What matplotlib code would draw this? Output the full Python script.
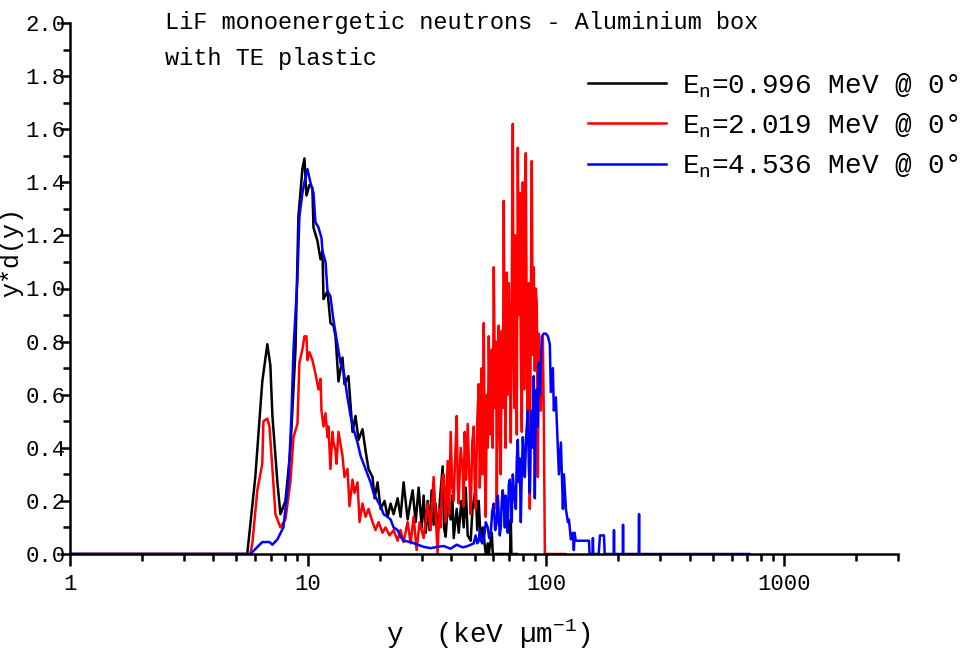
import matplotlib
matplotlib.use('Agg')
import matplotlib.pyplot as plt
from matplotlib.ticker import FixedLocator, LogLocator, NullFormatter

# 1. Spectra (y in keV/um, y*d(y))
x_096 = [1.0, 5.55, 6.00, 6.42, 6.74, 6.94, 7.08, 7.43, 7.65, 8.03, 8.42, 8.85, 9.10, 9.46, 9.65, 9.84,
         10.13, 10.42, 10.53, 10.94, 11.27, 11.49, 11.60, 12.06, 12.41, 12.78, 13.03, 13.41, 13.94, 14.21,
         14.77, 15.36, 15.81, 16.28, 16.92, 17.42, 17.93, 18.64, 19.01, 19.57, 20.15, 20.94, 21.56, 22.20,
         22.85, 23.76, 24.45, 25.17, 26.17, 26.95, 27.47, 28.28, 29.11, 30.0, 30.55, 31.2, 31.76, 32.3,
         33.0, 33.65, 34.3, 34.99, 35.8, 36.73, 37.2, 37.81, 38.55, 39.69, 40.3, 40.86, 42.07, 42.89,
         44.0, 45.02, 45.89, 46.79, 48.17, 49.0, 50.56, 51.3, 52.05, 53.07, 54.12, 55.72, 56.81, 57.36,
         59.05, 59.63, 70.5, 70.98, 71.4, 75.0]
y_096 = [0.0, 0.0, 0.29, 0.65, 0.79, 0.71, 0.52, 0.27, 0.15, 0.20, 0.39, 0.77, 1.27, 1.45, 1.49, 1.35,
         1.39, 1.38, 1.23, 1.18, 1.11, 1.14, 0.96, 0.99, 0.87, 0.86, 0.82, 0.65, 0.74, 0.64,
         0.67, 0.46, 0.52, 0.43, 0.47, 0.39, 0.32, 0.29, 0.21, 0.27, 0.17, 0.20, 0.14, 0.19,
         0.15, 0.21, 0.14, 0.27, 0.13, 0.20, 0.24, 0.12, 0.25, 0.10, 0.22, 0.08, 0.20, 0.09,
         0.24, 0.11, 0.19, 0.07, 0.21, 0.33, 0.10, 0.065, 0.18, 0.13, 0.22, 0.06, 0.17, 0.08,
         0.20, 0.10, 0.25, 0.07, 0.05, 0.17, 0.25, 0.09, 0.20, 0.05, 0.10, 0.0, 0.04, 0.0,
         0.08, 0.0, 0.0, 0.13, 0.0, 0.0]

x_2019 = [1.0, 5.72, 5.83, 6.12, 6.42, 6.49, 6.74, 6.88, 7.08, 7.29, 7.65, 8.03, 8.42, 8.68, 9.02, 9.19,
          9.46, 9.65, 9.84, 9.93, 10.13, 10.42, 10.73, 11.05, 11.27, 11.38, 11.60, 11.83, 12.06, 12.18,
          12.41, 12.66, 12.78, 13.03, 13.15, 13.41, 13.94, 14.21, 14.63, 14.92, 15.36, 15.66, 16.12, 16.44,
          16.92, 17.42, 17.93, 18.64, 19.19, 19.76, 20.54, 21.14, 21.98, 22.85, 23.76, 24.45, 25.17, 26.17,
          26.95, 27.73, 28.55, 29.39, 30.55, 31.76, 32.69, 33.65, 34.99, 35.5, 36.0, 36.5, 37.09, 37.8,
          38.55, 39.1, 39.69, 40.3, 40.86, 41.5, 42.07, 42.5, 42.89, 43.7, 44.58, 45.0, 45.45, 46.1,
          46.79, 47.5, 48.17, 48.9, 49.59, 50.1, 50.56, 51.3, 52.05, 52.6, 53.07, 53.6, 54.12, 54.65,
          55.2, 55.72, 56.3, 56.81, 57.36, 58.2, 59.05, 59.6, 60.21, 61.0, 61.6, 61.97, 62.6, 63.18,
          63.8, 64.42, 65.05, 65.7, 66.32, 66.9, 67.5, 68.28, 68.9, 69.62, 70.3, 70.98, 71.6, 72.37,
          72.9, 73.4, 74.0, 74.5, 74.9, 75.22, 75.96, 76.7, 77.44, 78.2, 78.95, 79.72, 80.3, 80.8,
          81.4, 82.06, 82.8, 83.67, 84.48, 85.30, 86.1, 86.96, 87.8, 88.66, 89.52, 90.4, 91.28, 92.17,
          93.07, 94.0, 94.90, 95.8, 96.76, 97.70, 98.65, 119.8]
y_2019 = [0.0, 0.0, 0.04, 0.24, 0.34, 0.50, 0.51, 0.48, 0.32, 0.15, 0.10, 0.13, 0.27, 0.44, 0.49, 0.72,
          0.77, 0.82, 0.82, 0.73, 0.76, 0.73, 0.68, 0.62, 0.66, 0.54, 0.48, 0.53, 0.44, 0.48,
          0.32, 0.46, 0.42, 0.39, 0.34, 0.46, 0.37, 0.29, 0.32, 0.18, 0.28, 0.23, 0.27, 0.12,
          0.19, 0.14, 0.17, 0.12, 0.09, 0.12, 0.08, 0.10, 0.07, 0.09, 0.05, 0.09, 0.045, 0.12,
          0.04, 0.14, 0.015, 0.12, 0.06, 0.19, 0.09, 0.29, 0.0, 0.17, 0.10, 0.28, 0.30, 0.12,
          0.35, 0.15, 0.46, 0.25, 0.20, 0.38, 0.52, 0.25, 0.19, 0.40, 0.32, 0.18, 0.46, 0.28,
          0.49, 0.30, 0.15, 0.42, 0.48, 0.25, 0.17, 0.50, 0.64, 0.25, 0.43, 0.70, 0.30, 0.87,
          0.35, 0.14, 0.60, 0.40, 0.82, 0.45, 0.77, 0.40, 1.08, 0.55, 0.80, 0.17, 0.70, 0.86,
          0.45, 0.30, 0.84, 0.55, 1.33, 0.70, 0.40, 1.06, 0.60, 1.02, 0.75, 0.42, 0.95, 1.62,
          0.80, 0.55, 1.20, 1.12, 0.70, 0.45, 1.53, 0.90, 1.36, 0.75, 0.46, 1.40, 0.95, 0.62,
          1.25, 1.51, 0.85, 0.48, 1.02, 0.17, 0.90, 1.48, 0.75, 1.08, 0.69, 1.00, 0.94, 0.29,
          0.83, 0.60, 0.54, 0.75, 0.82, 0.50, 0.0, 0.0]

x_4536 = [1.0, 5.72, 6.42, 6.88, 7.08, 7.43, 7.87, 8.26, 8.51, 8.68, 9.02, 9.19, 9.46, 9.65, 9.93, 10.22,
          10.53, 10.73, 11.05, 11.38, 11.49, 11.83, 12.06, 12.41, 12.78, 13.28, 13.67, 14.08, 14.63, 15.07,
          15.51, 16.12, 16.60, 17.09, 17.76, 18.29, 18.82, 19.57, 20.15, 20.74, 21.56, 22.20, 22.85, 23.76,
          24.45, 25.17, 26.95, 28.83, 30.55, 32.69, 34.99, 37.09, 39.69, 42.07, 44.58, 46.79, 48.17, 49.59,
          50.5, 51.3, 52.05, 52.6, 53.07, 53.8, 54.65, 55.7, 56.81, 57.6, 58.5, 59.3, 60.21, 61.0,
          61.97, 62.6, 63.18, 63.8, 64.42, 65.05, 65.68, 66.32, 67.0, 67.6, 68.28, 68.95, 69.6, 70.30,
          70.98, 71.6, 72.37, 73.4, 74.50, 75.2, 75.96, 76.69, 77.4, 78.19, 78.9, 79.72, 80.5, 81.28,
          82.4, 83.67, 84.5, 85.30, 86.1, 86.96, 87.8, 88.66, 89.52, 90.4, 91.28, 92.2, 93.07, 94.0,
          95.82, 97.70, 99.61, 101.6, 103.5, 104.5, 106.6, 107.6, 109.7, 111.9, 113.0, 115.2, 117.5, 118.6,
          120.9, 123.3, 124.5, 126.9, 129.4, 130.6, 131.5, 133.0, 142.6, 151.1, 152.0, 156.5, 157.0, 157.5,
          166.0, 168.1, 174.7, 176.0, 192.0, 192.5, 193.0, 209.5, 210.1, 210.7, 244.5, 245.3, 246.0, 712.0]
y_4536 = [0.0, 0.0, 0.045, 0.045, 0.035, 0.055, 0.10, 0.27, 0.52, 0.77, 1.04, 1.27, 1.36, 1.40, 1.45, 1.40,
          1.36, 1.25, 1.23, 1.19, 1.14, 1.10, 0.99, 0.97, 0.88, 0.79, 0.72, 0.69, 0.59, 0.52,
          0.47, 0.42, 0.37, 0.34, 0.30, 0.27, 0.23, 0.20, 0.18, 0.15, 0.14, 0.13, 0.10, 0.09,
          0.065, 0.05, 0.045, 0.035, 0.027, 0.022, 0.027, 0.03, 0.02, 0.035, 0.025, 0.03, 0.035, 0.04,
          0.07, 0.04, 0.05, 0.09, 0.065, 0.04, 0.05, 0.12, 0.10, 0.06, 0.08, 0.16, 0.19, 0.09,
          0.12, 0.22, 0.15, 0.07, 0.10, 0.20, 0.24, 0.19, 0.10, 0.22, 0.14, 0.08, 0.26, 0.28,
          0.23, 0.12, 0.30, 0.22, 0.17, 0.35, 0.43, 0.27, 0.36, 0.12, 0.30, 0.44, 0.35, 0.29,
          0.45, 0.54, 0.33, 0.23, 0.45, 0.54, 0.40, 0.67, 0.21, 0.55, 0.62, 0.48, 0.72, 0.60,
          0.82, 0.83, 0.83, 0.82, 0.79, 0.61, 0.70, 0.54, 0.59, 0.39, 0.30, 0.42, 0.17, 0.30,
          0.17, 0.12, 0.13, 0.055, 0.08, 0.015, 0.08, 0.05, 0.05, 0.05, 0.0, 0.0, 0.06, 0.0,
          0.0, 0.07, 0.07, 0.0, 0.0, 0.09, 0.0, 0.0, 0.11, 0.0, 0.0, 0.15, 0.0, 0.0]

labels = ['E$_{\\mathrm{n}}$=0.996 MeV @ 0\u00b0',
          'E$_{\\mathrm{n}}$=2.019 MeV @ 0\u00b0',
          'E$_{\\mathrm{n}}$=4.536 MeV @ 0\u00b0']
colors = ['black', 'red', 'blue']

# 2. Fonts - typewriter look of the original
plt.rcParams['font.family'] = ['Liberation Mono', 'DejaVu Sans']
plt.rcParams['mathtext.fontset'] = 'custom'
plt.rcParams['mathtext.rm'] = 'Liberation Mono'
plt.rcParams['mathtext.it'] = 'Liberation Mono'

fig = plt.figure(figsize=(9.66, 6.5), dpi=100)
ax = fig.add_axes([70 / 966, 96 / 650, 828 / 966, 531 / 650])

for xs, ys, c, lab in zip([x_096, x_2019, x_4536], [y_096, y_2019, y_4536], colors, labels):
    ax.plot(xs, ys, color=c, lw=1.8, label=lab)

# 3. Axes styling
ax.set_xscale('log')
ax.set_xlim(1, 3000)
ax.set_ylim(0, 2.0)
ax.spines['top'].set_visible(False)
ax.spines['right'].set_visible(False)
ax.spines['left'].set_linewidth(1.8)
ax.spines['bottom'].set_linewidth(1.8)

ax.xaxis.set_major_locator(FixedLocator([1, 10, 100, 1000]))
ax.xaxis.set_minor_locator(LogLocator(base=10, subs=range(2, 10), numticks=20))
ax.xaxis.set_minor_formatter(NullFormatter())
ax.set_xticklabels(['1', '10', '100', '1000'])
ax.set_yticks([0.0, 0.2, 0.4, 0.6, 0.8, 1.0, 1.2, 1.4, 1.6, 1.8, 2.0])
ax.set_yticklabels(['0.0', '0.2', '0.4', '0.6', '0.8', '1.0', '1.2', '1.4', '1.6', '1.8', '2.0'])
ax.set_yticks([0.1, 0.3, 0.5, 0.7, 0.9, 1.1, 1.3, 1.5, 1.7, 1.9], minor=True)

ax.tick_params(axis='x', which='major', direction='out', length=8.5, width=1.8, labelsize=16, pad=6)
ax.tick_params(axis='x', which='minor', direction='out', length=5, width=1.8)
ax.tick_params(axis='y', which='major', direction='out', length=7, width=1.8, labelsize=16, pad=-4)
ax.tick_params(axis='y', which='minor', direction='out', length=5, width=1.8)

ax.set_xlabel('y  (keV \u00b5m$^{-1}$)', fontsize=20)
ax.xaxis.set_label_coords(0.505, -0.12)
# kept just left of the tick labels so the two do not collide
ax.set_ylabel('y*d(y)', fontsize=18, va='center')
ax.yaxis.set_label_coords(-0.071, 0.569)

# 4. Title and legend
fig.text(165 / 966, 1 - 29 / 650, 'LiF monoenergetic neutrons - Aluminium box', fontsize=17, va='baseline')
fig.text(165 / 966, 1 - 65 / 650, 'with TE plastic', fontsize=17, va='baseline')

ax.legend(loc='upper left', bbox_to_anchor=(588 / 966, 1 - 71 / 650), bbox_transform=fig.transFigure,
          frameon=False, fontsize=20, handlelength=2.8, handletextpad=0.6, labelspacing=0.42,
          borderpad=0, borderaxespad=0)

plt.savefig('out.png', dpi=100)
